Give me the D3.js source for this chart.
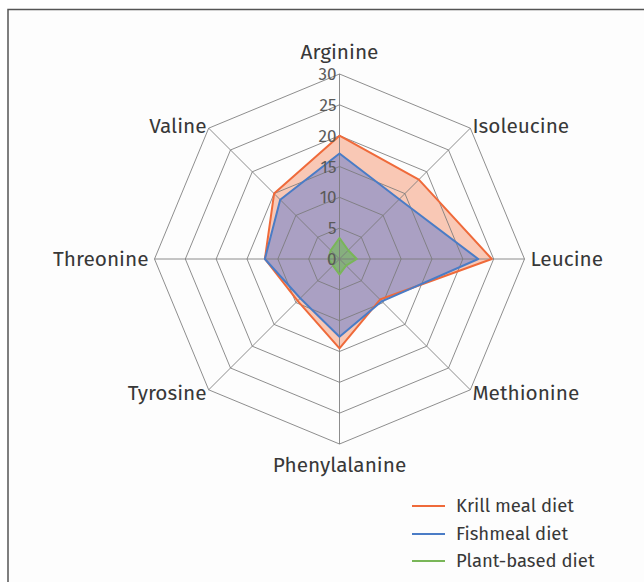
<!DOCTYPE html>
<html><head><meta charset="utf-8">
<script src="https://cdn.jsdelivr.net/npm/d3@7"></script>
<style>body{margin:0;background:#fff}svg{display:block}text{font-family:"Fira Sans","Noto Sans","Open Sans",sans-serif}</style>
</head><body><svg id="c" width="644" height="582"></svg>
<script>
const categories = ["Arginine","Isoleucine","Leucine","Methionine","Phenylalanine","Tyrosine","Threonine","Valine"];
const krill = [20, 18.2, 24.7, 9.3, 14.5, 9.6, 12.1, 15];
const fish = [17.1, 13.7, 22.5, 9.7, 12.6, 9.0, 12.1, 13.6];
const plant = [3.4, 2.0, 2.8, 1.5, 2.5, 1.5, 1.8, 2.0];
const ticks = [0, 5, 10, 15, 20, 25, 30];
const seriesNames = ["Krill meal diet","Fishmeal diet","Plant-based diet"];

const svg = d3.select("#c");
svg.append("rect").attr("x",8).attr("y",9.5).attr("width",700).attr("height",700)
  .attr("fill","#fdfdfd").attr("stroke","#555").attr("stroke-width",1.5);

const cx = 339.5, cy = 259;
const r = d3.scaleLinear().domain([0,30]).range([0,185]);
const ang = d3.scalePoint().domain(categories).range([0, 2*Math.PI*7/8]);
const pt = (c,v) => { const a = ang(c); return [cx + r(v)*Math.sin(a), cy - r(v)*Math.cos(a)]; };

const g = svg.append("g");
const series = [
  {name: seriesNames[0], vals: krill, stroke:"#ef6a3a", fill:"rgba(242,120,72,0.40)"},
  {name: seriesNames[1], vals: fish, stroke:"#4a7cc6", fill:"rgba(105,128,205,0.55)"},
  {name: seriesNames[2], vals: plant, stroke:"#79b658", fill:"rgba(110,185,80,0.6)"}
];
const line = d3.line().curve(d3.curveLinearClosed);
series.forEach(s=>{
  g.append("path").attr("d", line(categories.map((c,i)=>pt(c,s.vals[i]))))
   .attr("fill", s.fill).attr("stroke","none");
});
ticks.slice(1).forEach(t=>{
  g.append("path").attr("d", line(categories.map(c=>pt(c,t))))
   .attr("fill","none").attr("stroke","#7a7a7a").attr("stroke-width",1).attr("opacity",0.85);
});
categories.forEach(c=>{
  const [x,y] = pt(c,30);
  g.append("line").attr("x1",cx).attr("y1",cy).attr("x2",x).attr("y2",y)
   .attr("stroke","#7a7a7a").attr("stroke-width",1).attr("opacity",0.85);
});
series.forEach(s=>{
  g.append("path").attr("d", line(categories.map((c,i)=>pt(c,s.vals[i]))))
   .attr("fill","none").attr("stroke", s.stroke).attr("stroke-width",2).attr("stroke-linejoin","round");
});
ticks.forEach(t=>{
  g.append("text").attr("x",cx-3).attr("y",cy - r(t)).attr("dy","0.36em")
   .attr("text-anchor","end").attr("font-size",17).attr("fill","#5a5a5a").text(t);
});
categories.forEach(c=>{
  const a = ang(c);
  const [x,y] = pt(c,30);
  const s = Math.sin(a), co = Math.cos(a);
  let anchor = Math.abs(s)<0.01 ? "middle" : (s>0 ? "start":"end");
  let lx = x + s*3, ly = y - co*4;
  let dy = "0.35em";
  if (co > 0.99) { ly = y - 15; dy="0em"; }
  if (co < -0.99) { ly = y + 12; dy="0.75em"; }
  if (Math.abs(s) > 0.99) { lx = x + s*6; }
  g.append("text").attr("x",lx).attr("y",ly).attr("dy",dy).attr("text-anchor",anchor)
   .attr("font-size",20.8).attr("fill","#383838").text(c);
});
const ly0 = [506, 534, 561];
series.forEach((s,i)=>{
  svg.append("line").attr("x1",412).attr("x2",445).attr("y1",ly0[i]).attr("y2",ly0[i])
    .attr("stroke",s.stroke).attr("stroke-width",2);
  svg.append("text").attr("x",456).attr("y",ly0[i]).attr("dy","0.35em")
    .attr("font-size",18.5).attr("fill","#383838").text(s.name);
});
</script></body></html>
